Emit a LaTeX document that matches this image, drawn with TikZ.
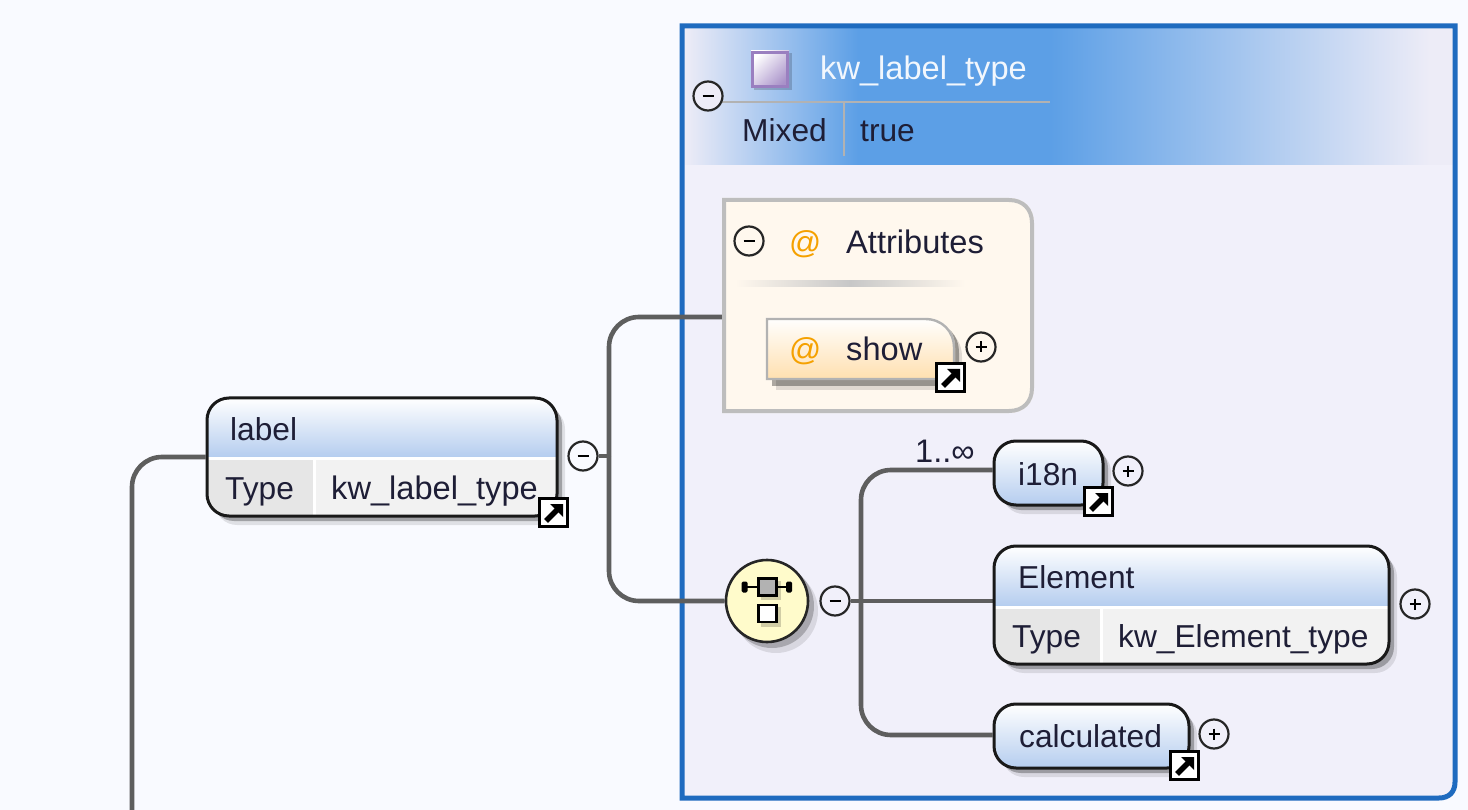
\documentclass[tikz,border=0pt]{standalone}
\usepackage{fontspec}
\setmainfont{Liberation Sans}
\usetikzlibrary{fit}
\pgfdeclarelayer{under}
\pgfdeclarelayer{wires}
\pgfsetlayers{under,wires,main}
\definecolor{pagebg}{HTML}{F9FAFF}
\definecolor{framebg}{HTML}{F1F0FA}
\definecolor{frameblue}{HTML}{1F6BBF}
\definecolor{bandblue}{HTML}{5C9FE6}
\definecolor{bandpale}{HTML}{EDECF7}
\definecolor{conngray}{HTML}{5E5E5E}
\definecolor{inkdark}{HTML}{1E1E36}
\definecolor{hdrblue}{HTML}{B5CDEF}
\definecolor{cellA}{HTML}{E6E6E6}
\definecolor{cellB}{HTML}{F2F2F2}
\definecolor{attrbg}{HTML}{FFF8EE}
\definecolor{attrline}{HTML}{BDBDBD}
\definecolor{orangeat}{HTML}{F5A100}
\definecolor{showor}{HTML}{FFDFAE}
\definecolor{seqfill}{HTML}{FFFBCB}
\definecolor{purp}{HTML}{9A7FC0}
\tikzset{
  x=1pt,y=-1pt,
  txt/.style={anchor=base west,inner sep=0pt,text=inkdark,font=\fontsize{31.7}{34}\selectfont},
  wide/.style={font=\fontsize{32.6}{34}\selectfont},
  conn/.style={draw=conngray,line width=4.6pt,rounded corners=30pt},
  elembox/.style={draw=black!90,line width=3pt,rounded corners=22pt,inner sep=0pt},
  anchorbox/.style={inner sep=0pt},
  togglec/.style={circle,draw=black!85,line width=2.2pt,minimum size=29pt,inner sep=0pt,fill=framebg},
}
\newcommand{\ElemShadow}[4]{%
  \fill[black,opacity=.10,rounded corners=22pt] (#1+8,#2+9) rectangle (#3+8,#4+9);
  \fill[black,opacity=.28,rounded corners=22pt] (#1+5,#2+5) rectangle (#3+5,#4+5);
}
\newcommand{\SimpleElem}[5]{%
  \ElemShadow{#2}{#3}{#4}{#5}
  \shade[rounded corners=22pt,top color=white,bottom color=hdrblue] (#2,#3) rectangle (#4,#5);
  \node[elembox,fit={(#2,#3) (#4,#5)}] (#1) {};
}
\newcommand{\TypedElem}[7]{%
  \ElemShadow{#2}{#3}{#4}{#5}
  \begin{scope}
    \clip[rounded corners=22pt] (#2,#3) rectangle (#4,#5);
    \shade[top color=white,bottom color=hdrblue] (#2,#3) rectangle (#4,#6);
    \fill[white] (#2,#6) rectangle (#4,#6+3);
    \fill[cellA] (#2,#6+3) rectangle (#7,#5);
    \fill[white] (#7,#6+3) rectangle (#7+3,#5);
    \fill[cellB] (#7+3,#6+3) rectangle (#4,#5);
  \end{scope}
  \node[elembox,fit={(#2,#3) (#4,#5)}] (#1) {};
}
\newcommand{\LinkIcon}[3]{%
  \node[anchorbox,draw=black,line width=3pt,fill=white,fit={(#2+1.5,#3+1.5) (#2+29.5,#3+29.5)}] (#1) {};
  \draw[black,line width=5.5pt] (#2+8,#3+24) -- (#2+19,#3+13);
  \fill[black] (#2+12,#3+7) -- (#2+25,#3+7) -- (#2+25,#3+20) -- cycle;
}
\newcommand{\TogMinus}[3]{%
  \node[togglec] (#1) at (#2,#3) {};
  \draw[black,line width=2.4pt] (#2-5.5,#3) -- (#2+5.5,#3);
}
\newcommand{\TogPlus}[3]{%
  \node[togglec] (#1) at (#2,#3) {};
  \draw[black,line width=2.2pt] (#2-5.5,#3) -- (#2+5.5,#3) (#2,#3-5.5) -- (#2,#3+5.5);
}
\begin{document}
\begin{tikzpicture}
\useasboundingbox (0,0) rectangle (1468,810);
\begin{pgfonlayer}{under}
\fill[pagebg] (0,0) rectangle (1468,810);
\fill[framebg] (682,26) -- (1455,26) -- (1455,782) .. controls (1455,792) and (1449,798) .. (1439,798) -- (682,798) -- cycle;
\shade[left color=bandpale,right color=bandblue] (685,27) rectangle (858,165);
\fill[bandblue] (857.5,27) rectangle (1050.5,165);
\shade[left color=bandblue,right color=bandpale] (1050,27) rectangle (1430,165);
\fill[bandpale] (1429.5,27) rectangle (1453,165);
\draw[frameblue,line width=5pt] (682,26) -- (1455,26) -- (1455,782) .. controls (1455,792) and (1449,798) .. (1439,798) -- (682,798) -- cycle;
\end{pgfonlayer}

% type header
\fill[black,opacity=.18] (753.5,53.5) rectangle (791.5,90.5);
\shade[top color=white,bottom color=purp!85,shading angle=45] (751,51) rectangle (789,88);
\node[anchorbox,draw=purp,line width=3pt,fit={(752.5,52.5) (787.5,86.5)}] (typeicon) {};
\node[txt,wide,text=white!92!bandblue] (typename) at (820,80) {kw\_label\_type};
\coordinate (hlineL) at (722,102);
\coordinate (hlineR) at (1050,102);
\coordinate (vlineT) at (844,102);
\coordinate (vlineB) at (844,156);
\draw[black!30,line width=2.4pt] (hlineL) -- (hlineR);
\draw[black!30,line width=2.4pt] (vlineT) -- (vlineB);
\node[txt] (mixedk) at (742,142) {Mixed};
\node[txt] (mixedv) at (860,142) {true};
\begin{scope}\tikzset{togglec/.append style={fill=bandpale}}\TogMinus{mtype}{708}{96}\end{scope}

% label element
\TypedElem{lab}{207}{398}{557}{516}{457}{313}
\node[txt] (labt) at (230,440) {label};
\node[txt] (labk) at (225,499) {Type};
\node[txt,wide] (labv) at (331,499) {kw\_label\_type};
\LinkIcon{labi}{538}{497}
\begin{scope}\tikzset{togglec/.append style={fill=pagebg}}\TogMinus{mlab}{583}{456}\end{scope}

% attributes
\fill[attrbg] (722,198) -- (1009,198) .. controls (1024,198) and (1034,208) .. (1034,223) -- (1034,388) .. controls (1034,403) and (1024,413) .. (1009,413) -- (722,413) -- cycle;
\draw[attrline,line width=4pt] (724,200) -- (1009,200) .. controls (1023,200) and (1032,209) .. (1032,223) -- (1032,388) .. controls (1032,402) and (1023,411) .. (1009,411) -- (724,411) -- cycle;
\node[anchorbox,fit={(722,198) (1034,413)}] (attr) {};
\begin{scope}\tikzset{togglec/.append style={fill=attrbg}}\TogMinus{mattr}{749}{241}\end{scope}
\node[txt,text=orangeat] (attrat) at (789,254) {@};
\node[txt,wide] (attrt) at (846,254) {Attributes};
\shade[left color=attrbg,right color=attrbg,middle color=black!22] (735,281) rectangle (965,287);

% show attribute
\fill[black,opacity=.12] (776,390) -- (776,327) -- (932,327) .. controls (950,327) and (962,339) .. (962,357) -- (962,390) -- cycle;
\fill[black,opacity=.32] (772,386) -- (772,323) -- (930,323) .. controls (948,323) and (959,335) .. (959,353) -- (959,386) -- cycle;
\shade[top color=white,bottom color=showor] (766,318) -- (925,318) .. controls (943,318) and (955,330) .. (955,348) -- (955,380) -- (766,380) -- cycle;
\draw[black!30,line width=2.4pt] (767,379) -- (767,319) -- (925,319) .. controls (942,319) and (954,331) .. (954,348) -- (954,379) -- cycle;
\node[anchorbox,fit={(766,318) (955,380)}] (show) {};
\node[txt,text=orangeat] (showat) at (789,361) {@};
\node[txt,wide] (showt) at (846,361) {show};
\LinkIcon{showi}{935}{362}
\begin{scope}\tikzset{togglec/.append style={fill=attrbg}}\TogPlus{pshow}{981}{347}\end{scope}

% sequence compositor
\fill[black,opacity=.10] (776,611) circle[radius=42pt];
\fill[black,opacity=.22] (772,606) circle[radius=42pt];
\node[circle,draw=black!85,line width=2.6pt,fill=seqfill,minimum size=82pt,inner sep=0pt] (seq) at (767,601) {};
\fill[black,opacity=.18] (761,581) rectangle (781,600);
\fill[black,opacity=.18] (761,607) rectangle (781,627);
\draw[black,line width=2.4pt] (744,587) -- (789,587);
\fill[black,rounded corners=1.5pt] (741.5,581.5) rectangle (747.5,592.5);
\fill[black,rounded corners=1.5pt] (786,581.5) rectangle (792,592.5);
\node[anchorbox,draw=black,line width=2.6pt,fill=black!30,fit={(758.5,578.5) (776.5,595.5)}] (seqA) {};
\node[anchorbox,draw=black,line width=2.6pt,fill=white,fit={(758.5,605) (776.5,622)}] (seqB) {};
\TogMinus{mseq}{835}{601}

% children
\node[txt,wide] (occ) at (915,462) {1..∞};
\SimpleElem{i18n}{994}{441}{1103}{505}
\node[txt] (i18nt) at (1018,485) {i18n};
\LinkIcon{i18ni}{1083}{486}
\TogPlus{pi18n}{1128}{471}

\TypedElem{elem}{994}{546}{1389}{664}{606}{1100}
\node[txt] (elemt) at (1018,588) {Element};
\node[txt] (elemk) at (1012,647) {Type};
\node[txt] (elemv) at (1118,647) {kw\_Element\_type};
\TogPlus{pelem}{1415}{604}

\SimpleElem{calc}{994}{704}{1189}{768}
\node[txt] (calct) at (1019,747) {calculated};
\LinkIcon{calci}{1169}{750}
\TogPlus{pcalc}{1214}{734}

% connectors
\coordinate (offbottom) at (132,812);
\coordinate (trunkA) at (609,456);
\coordinate (attrIn) at (724,317);
\coordinate (trunkB) at (861,601);
\coordinate (i18nIn) at (996,470);
\coordinate (calcIn) at (996,735);
\begin{pgfonlayer}{wires}
\draw[conn] (lab.west) -| (offbottom);
\draw[conn] (trunkA) |- (attr.west |- attrIn);
\draw[conn] (trunkA) |- (seq.west);
\draw[conn] (mlab.east) -- (trunkA);
\draw[conn] (trunkB) |- (i18n.west |- i18nIn);
\draw[conn] (trunkB) |- (calc.west |- calcIn);
\draw[conn] (mseq.east) -- (elem.west |- mseq.east);
\end{pgfonlayer}
\end{tikzpicture}
\end{document}
